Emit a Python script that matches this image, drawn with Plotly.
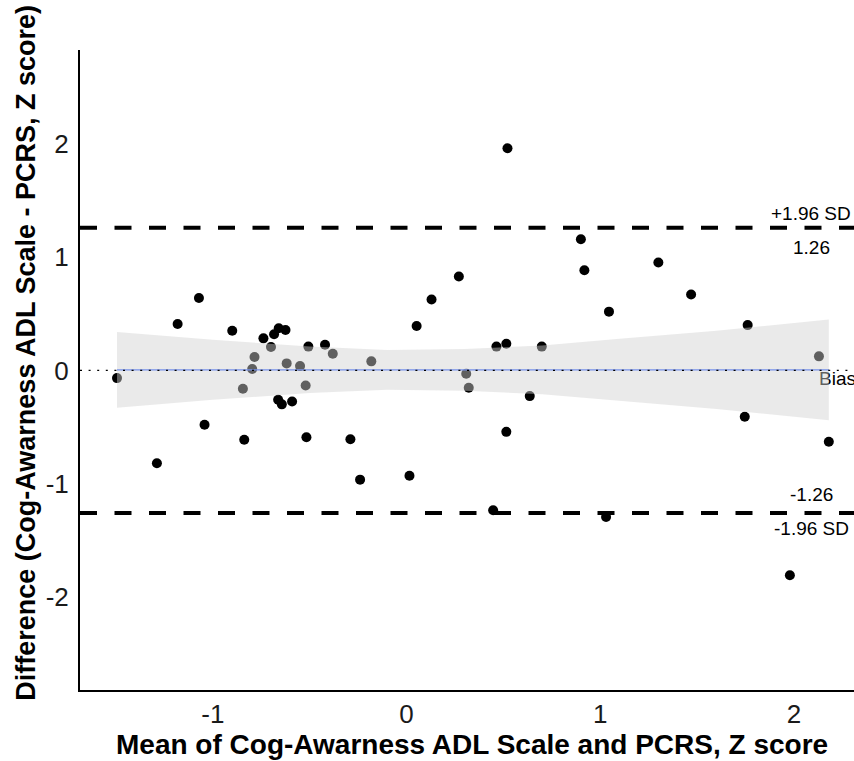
import plotly.graph_objects as go

# ---- data ----
mean_x = [-1.495, -1.289, -1.182, -1.072, -1.043, -0.900, -0.845, -0.838, -0.797, -0.785,
          -0.739, -0.700, -0.684, -0.660, -0.625, -0.663, -0.644, -0.619, -0.591, -0.550,
          -0.521, -0.507, -0.517, -0.421, -0.381, -0.290, -0.240, -0.182,
          0.015, 0.052, 0.129, 0.270, 0.308, 0.321, 0.447, 0.464, 0.515, 0.521, 0.515,
          0.636, 0.698, 0.900, 0.918, 1.045, 1.030, 1.300, 1.469, 1.761, 1.746, 1.979,
          2.129, 2.180]
diff_y = [-0.068, -0.820, 0.410, 0.640, -0.480, 0.350, -0.162, -0.613, 0.012, 0.118,
          0.283, 0.206, 0.320, 0.372, 0.357, -0.260, -0.300, 0.062, -0.274, 0.038,
          -0.133, 0.210, -0.590, 0.227, 0.147, -0.608, -0.965, 0.080,
          -0.930, 0.392, 0.626, 0.830, -0.030, -0.153, -1.236, 0.210, 0.236, 1.962, -0.543,
          -0.227, 0.210, 1.159, 0.885, 0.519, -1.295, 0.953, 0.670, 0.400, -0.410, -1.810,
          0.124, -0.631]

bias = 0.0
upper_loa = 1.26
lower_loa = -1.26

# regression fit line and its confidence band
band_x = [-1.495, -1.0, -0.5, -0.1, 0.3, 0.7, 1.1, 1.6, 2.18]
band_upper = [0.34, 0.27, 0.21, 0.18, 0.19, 0.22, 0.28, 0.35, 0.45]
band_lower = [-0.33, -0.26, -0.20, -0.17, -0.18, -0.21, -0.27, -0.34, -0.44]
fit_y = [0.005, 0.005, 0.005, 0.005, 0.005, 0.005, 0.005, 0.005, 0.005]

x_range = [-1.686, 2.310]
y_range = [-2.823, 2.830]
x_ticks = [-1, 0, 1, 2]
y_ticks = [-2, -1, 0, 1, 2]

FONT = "Liberation Sans, Arial, sans-serif"

fig = go.Figure()

# points
fig.add_trace(go.Scatter(x=mean_x, y=diff_y, mode="markers",
                         marker=dict(color="black", size=10, line=dict(width=0)),
                         showlegend=False, hoverinfo="skip"))

# "Bias" label (sits under the band)
fig.add_trace(go.Scatter(x=[2.225], y=[bias], mode="text", text=["Bias"],
                         textposition="bottom center",
                         textfont=dict(family=FONT, size=19, color="black"),
                         cliponaxis=False, showlegend=False, hoverinfo="skip"))

# fitted line
fig.add_trace(go.Scatter(x=band_x, y=fit_y, mode="lines",
                         line=dict(color="rgb(40,90,255)", width=1.3),
                         showlegend=False, hoverinfo="skip"))

# confidence band (drawn on top so it greys out what is under it)
fig.add_trace(go.Scatter(x=band_x + band_x[::-1], y=band_upper + band_lower[::-1],
                         mode="lines", fill="toself", fillcolor="rgba(209,209,209,0.46)",
                         line=dict(width=0), showlegend=False, hoverinfo="skip"))

# bias line (dotted)
fig.add_trace(go.Scatter(x=x_range, y=[bias, bias], mode="lines",
                         line=dict(color="black", width=1.1, dash="2px,6.6px"),
                         showlegend=False, hoverinfo="skip"))

# limits of agreement (dashed)
for yv in [upper_loa, lower_loa]:
    fig.add_trace(go.Scatter(x=x_range, y=[yv, yv], mode="lines",
                             line=dict(color="black", width=4, dash="17px,17.5px"),
                             showlegend=False, hoverinfo="skip"))

ann_font = dict(family=FONT, size=19, color="black")
annotations = [
    dict(x=2.09, y=upper_loa, text="+1.96 SD", yshift=14, yanchor="middle"),
    dict(x=2.09, y=upper_loa, text="%.2f" % upper_loa, yshift=-20, yanchor="middle"),
    dict(x=2.09, y=lower_loa, text="%.2f" % lower_loa, yshift=19, yanchor="middle"),
    dict(x=2.09, y=lower_loa, text="-1.96 SD", yshift=-15, yanchor="middle"),
]
for a in annotations:
    a.update(xref="x", yref="y", showarrow=False, xanchor="center", font=ann_font)

annotations.append(dict(xref="paper", yref="paper", x=0.5065, y=-0.0845,
                        text="<b>Mean of Cog-Awarness ADL Scale and PCRS, Z score</b>",
                        showarrow=False, xanchor="center", yanchor="middle",
                        font=dict(family=FONT, size=28, color="black")))
annotations.append(dict(xref="paper", yref="paper", x=-0.0698, y=0.527,
                        text="<b>Difference (Cog-Awarness ADL Scale - PCRS, Z score)</b>",
                        textangle=-90, showarrow=False, xanchor="center", yanchor="middle",
                        font=dict(family=FONT, size=27, color="black")))

fig.update_layout(
    width=854, height=761,
    margin=dict(l=80, r=0, t=50, b=71),
    paper_bgcolor="white", plot_bgcolor="white",
    annotations=annotations,
    showlegend=False,
    xaxis=dict(range=x_range, tickvals=x_ticks, ticktext=[str(v) for v in x_ticks],
               showgrid=False, zeroline=False, showline=True, linecolor="black",
               linewidth=2, ticks="", ticklabelstandoff=0,
               tickfont=dict(family=FONT, size=26, color="#1a1a1a")),
    yaxis=dict(range=y_range, tickvals=y_ticks, ticktext=[str(v) for v in y_ticks],
               showgrid=False, zeroline=False, showline=True, linecolor="black",
               linewidth=2, ticks="", ticklabelstandoff=4,
               tickfont=dict(family=FONT, size=26, color="#1a1a1a")),
)

fig.write_html("out.html")
